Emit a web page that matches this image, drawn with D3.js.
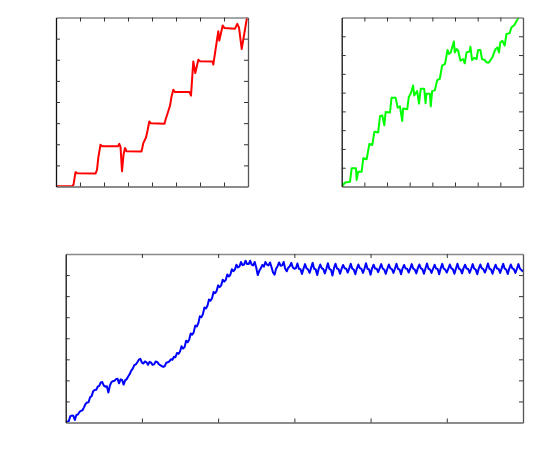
<!DOCTYPE html>
<html><head><meta charset="utf-8">
<script src="https://cdn.jsdelivr.net/npm/d3@7"></script>
<style>body{margin:0;background:#fff}svg{display:block}</style>
</head><body>
<script>
// Panel 1 (red)
const redX = [0,0.667,0.729,0.8125,0.875,1.646,1.708,1.7625,1.854,1.917,2.583,2.638,2.688,2.75,2.8125,2.875,2.9375,3.5625,3.6375,3.75,3.8125,3.8875,3.958,4.5208,4.5625,4.654,4.75,4.8125,4.8875,4.958,5.5625,5.625,5.7208,5.804,5.929,6.0,6.521,6.554,6.7625,6.804,6.946,7.021,7.458,7.554,7.625,7.7375,7.875,7.958];
const redY = [0.01,0.01,0.08,0.68,0.63,0.61,0.79,1.36,1.98,1.91,1.90,2.02,1.88,0.72,1.50,1.82,1.67,1.66,2.05,2.32,2.64,3.08,2.99,2.97,3.16,3.48,3.82,4.25,4.58,4.47,4.47,4.30,5.92,5.37,6.00,5.93,5.92,5.77,7.35,6.91,7.62,7.50,7.47,7.70,7.52,6.51,7.43,8.0];
const redXTicks = [1,2,3,4,5,6,7];
const redYTicks = [1,2,3,4,5,6,7];

// Panel 2 (green)
const greenX = [0.03,0.145,0.366,0.44,0.63,0.66,0.73,0.88,0.95,1.10,1.22,1.35,1.44,1.61,1.69,1.79,1.88,1.94,2.13,2.20,2.38,2.47,2.57,2.67,2.71,2.89,2.96,3.05,3.15,3.20,3.33,3.41,3.49,3.64,3.70,3.74,3.89,3.93,3.99,4.11,4.21,4.33,4.43,4.56,4.67,4.73,4.81,4.95,4.99,5.07,5.14,5.24,5.36,5.43,5.51,5.65,5.68,5.75,5.84,5.95,6.02,6.12,6.19,6.31,6.39,6.50,6.65,6.77,6.87,6.94,7.00,7.09,7.19,7.27,7.41,7.49,7.63,7.74,7.81];
const greenY = [0.04,0.21,0.25,0.97,0.97,0.35,0.79,0.79,1.50,1.45,2.26,2.21,2.91,2.88,3.74,3.79,3.26,3.97,3.94,4.73,4.73,4.20,4.27,3.49,4.15,4.11,4.76,4.97,5.38,4.85,5.08,4.41,5.21,5.21,4.44,4.94,4.94,4.27,5.08,5.12,5.65,5.74,6.44,6.53,7.27,7.06,7.14,7.72,7.14,7.32,7.23,6.70,6.79,6.56,7.14,7.20,7.44,6.74,6.85,6.79,7.27,7.27,6.79,6.74,6.61,6.61,6.88,7.29,7.41,7.14,7.67,7.76,7.50,8.12,8.17,8.47,8.61,8.87,9.0];
const greenXTicks = [1,2,3,4,5,6,7];
const greenYTicks = [1,2,3,4,5,6,7,8];

// Panel 3 (blue), one sample every 0.02 on x, from 0 to 6
const blueStep = 0.02;
const blueY = [
0.03,0.05,0.06,0.30,0.33,0.32,0.12,0.36,0.38,0.50,
0.55,0.58,0.72,0.88,0.95,0.96,1.20,1.25,1.48,1.54,
1.55,1.70,1.74,1.90,1.92,1.75,1.70,1.72,1.42,1.75,
1.92,1.96,1.98,2.06,2.08,1.86,2.05,2.02,1.80,2.00,
2.06,2.18,2.30,2.46,2.56,2.72,2.76,2.86,2.98,3.02,
2.84,2.80,2.90,2.86,2.74,2.88,2.84,2.74,2.76,2.90,
2.88,2.78,2.72,2.68,2.64,2.68,2.84,2.86,2.90,3.00,
2.98,3.12,3.10,3.30,3.26,
3.37,3.62,3.51,3.58,3.88,3.81,3.93,4.23,4.17,4.29,
4.60,4.56,4.71,5.04,5.00,5.14,5.46,5.41,5.54,5.84,
5.78,5.90,6.20,6.14,6.24,6.51,6.43,6.51,6.78,6.69,
6.77,7.03,6.93,7.01,7.28,7.18,7.27,7.49,7.36,7.41,
7.62,7.47,7.50,7.68,7.52,7.52,7.68,7.50,7.46,7.62,
7.36,7.00,7.20,7.32,7.48,7.40,7.62,7.50,7.46,7.60,
7.38,7.12,7.02,7.30,7.42,7.60,7.44,7.46,7.62,7.30,
7.18,7.35,7.42,7.58,7.36,7.30,
7.32,7.55,7.30,7.28,7.05, 7.30,7.52,7.32,7.26,7.10,
7.34,7.58,7.30,7.27,7.00, 7.31,7.50,7.33,7.28,7.08,
7.30,7.56,7.29,7.25,6.98, 7.33,7.54,7.31,7.28,7.06,
7.30,7.48,7.32,7.30,7.12, 7.32,7.53,7.30,7.26,7.04,
7.31,7.50,7.33,7.29,7.10, 7.30,7.56,7.30,7.27,7.02,
7.32,7.49,7.31,7.30,7.14, 7.33,7.52,7.30,7.26,7.06,
7.30,7.50,7.32,7.28,7.10, 7.31,7.54,7.29,7.27,7.04,
7.32,7.48,7.31,7.30,7.12, 7.30,7.52,7.30,7.26,7.08,
7.33,7.50,7.32,7.28,7.06, 7.31,7.55,7.30,7.27,7.10,
7.30,7.49,7.31,7.29,7.04, 7.32,7.53,7.30,7.26,7.12,
7.31,7.50,7.32,7.28,7.06, 7.30,7.54,7.30,7.27,7.08,
7.33,7.49,7.31,7.29,7.10, 7.30,7.52,7.30,7.26,7.04,
7.32,7.50,7.32,7.28,7.12, 7.31,7.55,7.30,7.27,7.06,
7.30,7.49,7.31,7.29,7.10, 7.32,7.53,7.30,7.26,7.05,
7.31,7.50,7.32,7.28,7.10, 7.30,7.52,7.30,7.24,7.16];
const blueXTicks = [1,2,3,4,5];
const blueYTicks = [1,2,3,4,5,6,7];

const svg = d3.select("body").append("svg").attr("width",550).attr("height",472);

function panel(cfg){
  const x = d3.scaleLinear().domain(cfg.xDomain).range([cfg.left, cfg.right]);
  const y = d3.scaleLinear().domain(cfg.yDomain).range([cfg.bottom, cfg.top]);
  const g = svg.append("g");
  const id = "clip" + cfg.name;
  svg.append("clipPath").attr("id", id).append("rect")
    .attr("x", cfg.left).attr("y", cfg.top - 1)
    .attr("width", cfg.right - cfg.left).attr("height", cfg.bottom - cfg.top + 1);
  const line = d3.line().x(d => x(d[0])).y(d => y(d[1]));
  g.append("path").datum(cfg.data).attr("d", line)
    .attr("fill","none").attr("stroke", cfg.color).attr("stroke-width", 2)
    .attr("stroke-linejoin","round").attr("clip-path", `url(#${id})`);
  const tk = 4;
  const style = (sel, domColor) => {
    sel.selectAll(".tick text").remove();
    sel.selectAll(".tick line").attr("stroke","#333");
    sel.select(".domain").attr("stroke", domColor).attr("stroke-width", 1.3);
  };
  g.append("g").attr("transform",`translate(0,${cfg.top})`)
    .call(d3.axisTop(x).tickValues(cfg.xTicks).tickSizeInner(-tk).tickSizeOuter(0).tickFormat(""))
    .call(s => style(s, "#888"));
  g.append("g").attr("transform",`translate(${cfg.right},0)`)
    .call(d3.axisRight(y).tickValues(cfg.yTicks).tickSizeInner(-tk).tickSizeOuter(0).tickFormat(""))
    .call(s => style(s, "#555"));
  g.append("g").attr("transform",`translate(0,${cfg.bottom})`)
    .call(d3.axisBottom(x).tickValues(cfg.xTicks).tickSizeInner(-tk).tickSizeOuter(0).tickFormat(""))
    .call(s => style(s, "#666"));
  g.append("g").attr("transform",`translate(${cfg.left},0)`)
    .call(d3.axisLeft(y).tickValues(cfg.yTicks).tickSizeInner(-tk).tickSizeOuter(0).tickFormat(""))
    .call(s => style(s, "#111"));
}

panel({name:"r", color:"#ff0000", left:56, right:248, top:17.5, bottom:186.5,
  xDomain:[0,8], yDomain:[0,8], xTicks:redXTicks, yTicks:redYTicks,
  data: redX.map((v,i)=>[v, redY[i]])});
panel({name:"g", color:"#00ff00", left:341.7, right:523, top:17.5, bottom:186.5,
  xDomain:[0,8], yDomain:[0,9], xTicks:greenXTicks, yTicks:greenYTicks,
  data: greenX.map((v,i)=>[v, greenY[i]])});
panel({name:"b", color:"#0000ff", left:65.7, right:523, top:254, bottom:422.5,
  xDomain:[0,6], yDomain:[0,8], xTicks:blueXTicks, yTicks:blueYTicks,
  data: blueY.map((v,i)=>[i*blueStep, v])});
</script>
</body></html>
